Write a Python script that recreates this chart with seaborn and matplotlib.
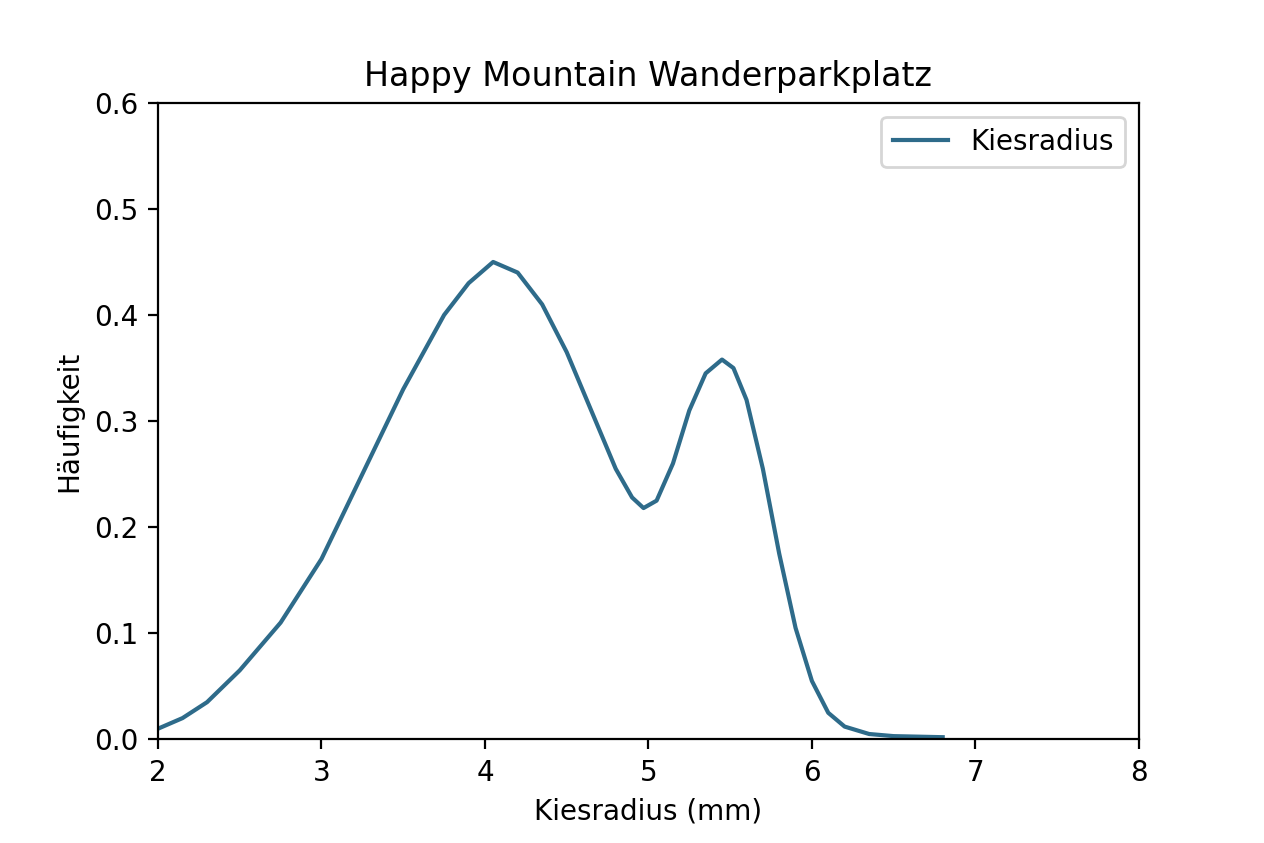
import numpy as np
import pandas as pd
import matplotlib
matplotlib.use("Agg")
import matplotlib.pyplot as plt
import seaborn as sns

# values
radius_mm = [2.0, 2.15, 2.3, 2.5, 2.75, 3.0, 3.25, 3.5, 3.75, 3.9, 4.05, 4.2, 4.35,
             4.5, 4.65, 4.8, 4.9, 4.97, 5.05, 5.15, 5.25, 5.35, 5.45, 5.52, 5.6,
             5.7, 5.8, 5.9, 6.0, 6.1, 6.2, 6.35, 6.5, 6.8]
frequency = [0.01, 0.02, 0.035, 0.065, 0.11, 0.17, 0.25, 0.33, 0.40, 0.43, 0.45,
             0.44, 0.41, 0.365, 0.31, 0.255, 0.228, 0.218, 0.225, 0.26, 0.31,
             0.345, 0.358, 0.35, 0.32, 0.255, 0.175, 0.105, 0.055, 0.025, 0.012,
             0.005, 0.003, 0.002]

df = pd.DataFrame({"Kiesradius (mm)": radius_mm, "Häufigkeit": frequency})

fig = plt.figure(figsize=(6.32, 4.215), dpi=200)
ax = fig.add_axes([0.125, 0.123, 0.776, 0.755])
sns.lineplot(data=df, x="Kiesradius (mm)", y="Häufigkeit", ax=ax,
             color="#2e6b8a", linewidth=1.5, label="Kiesradius")
ax.set_xlim(2, 8)
ax.set_ylim(0, 0.6)
ax.set_title("Happy Mountain Wanderparkplatz")
ax.legend(loc="upper right")

fig.savefig("out.png", dpi=200)
